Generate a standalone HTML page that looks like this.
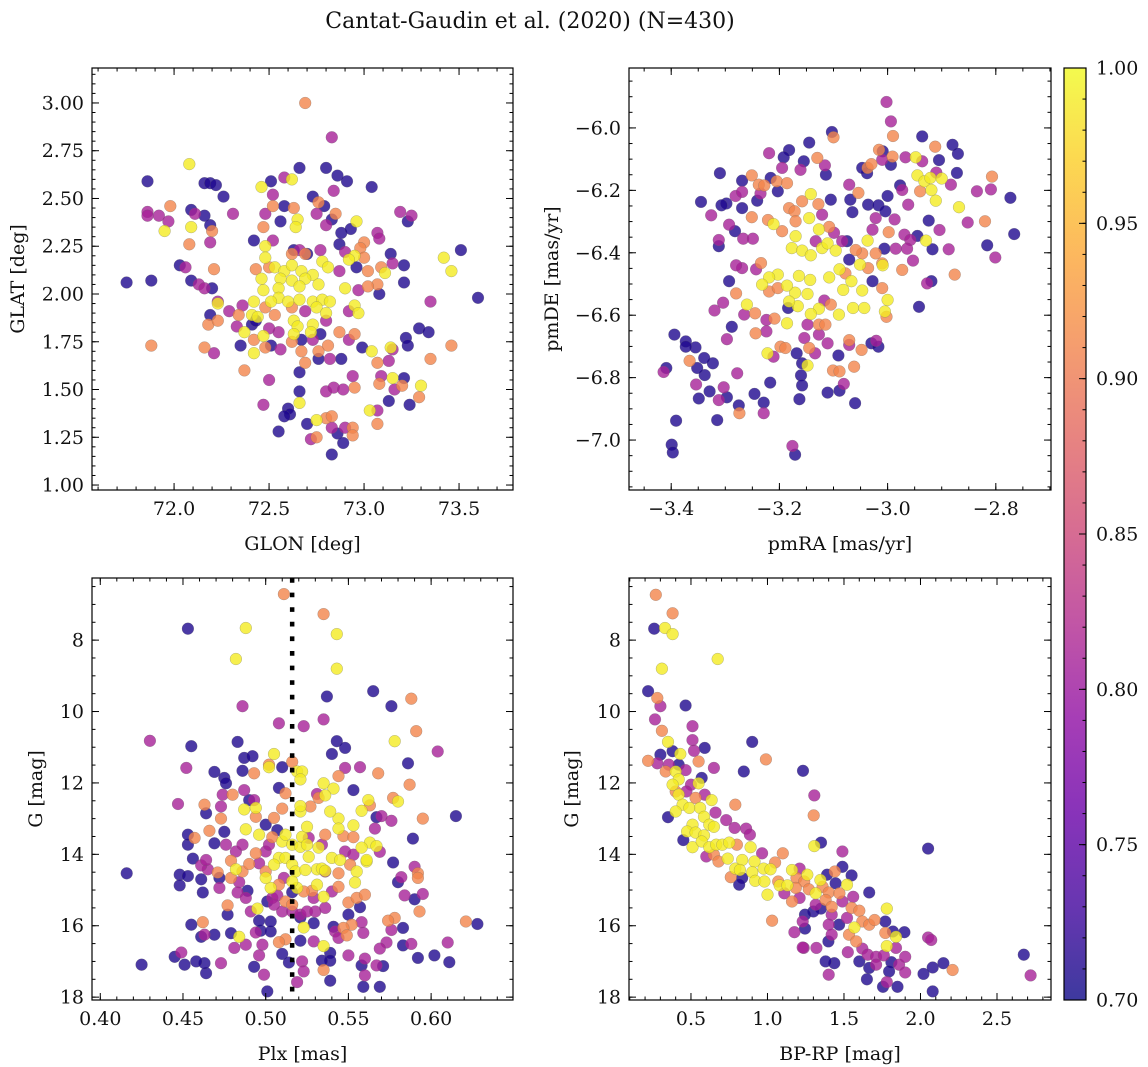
<!DOCTYPE html>
<html><head><meta charset="utf-8">
<style>
html,body{margin:0;padding:0;background:#fff;}
svg{display:block;font-family:"DejaVu Serif","Liberation Serif",serif;}
</style></head>
<body>
<svg id="fig" width="1148" height="1067" viewBox="0 0 1148 1067" xmlns="http://www.w3.org/2000/svg">
<defs>
<linearGradient id="plasma" x1="0" y1="1" x2="0" y2="0">
<stop offset="0" stop-color="#0d0887"/><stop offset="0.1" stop-color="#41049d"/><stop offset="0.2" stop-color="#6a00a8"/><stop offset="0.3" stop-color="#8f0da4"/><stop offset="0.4" stop-color="#b12a90"/><stop offset="0.5" stop-color="#cc4778"/><stop offset="0.6" stop-color="#e16462"/><stop offset="0.7" stop-color="#f2844b"/><stop offset="0.8" stop-color="#fca636"/><stop offset="0.9" stop-color="#fcce25"/><stop offset="1" stop-color="#f0f921"/>
</linearGradient>
</defs>
<text x="530" y="28" font-size="22" text-anchor="middle" fill="#111">Cantat-Gaudin et al. (2020) (N=430)</text>
</svg>
<script>
// ---- Panel 1: GLON / GLAT ----
const glon=[72.69,72.83,72.08,71.86,72.16,72.19,72.22,72.26,72.66,72.80,72.86,72.91,73.04,72.84,72.62,72.58,72.51,72.46,72.52,71.86,71.86,71.92,71.98,71.97,71.95,72.09,72.16,72.11,72.19,72.20,72.09,72.08,72.19,72.31,72.48,72.52,72.58,72.63,72.65,72.64,72.56,72.47,72.42,72.48,72.52,72.73,72.76,72.79,72.75,72.80,72.83,72.85,72.88,72.93,72.96,73.07,73.08,73.19,73.25,73.23,72.63,72.66,72.70,72.77,72.87,72.90,73.00,72.98,72.95,72.92,73.00,73.09,73.14,73.15,73.21,73.11,73.42,73.51,73.46,73.60,73.35,73.21,73.08,73.07,73.02,72.97,72.90,72.87,72.96,73.02,
72.48,72.53,72.58,72.62,72.67,72.73,72.78,72.81,72.56,72.62,72.69,72.46,72.47,72.55,72.66,72.76,72.43,72.50,72.69,72.62,72.55,72.51,72.60,72.66,72.73,72.78,72.82,72.42,72.48,72.53,72.62,72.69,72.75,72.80,72.95,72.97,72.92,72.80,72.63,72.65,72.63,72.73,72.72,72.55,72.50,72.41,72.44,72.34,72.29,72.23,72.23,72.36,72.19,72.18,72.23,72.03,72.06,72.09,72.13,72.16,72.20,72.21,71.75,71.88,
72.33,72.37,72.41,72.43,72.47,72.42,72.48,72.42,72.35,72.51,72.56,72.62,72.67,72.67,72.73,72.77,72.81,72.87,72.92,72.95,72.99,73.04,73.14,73.15,73.22,73.23,73.29,73.34,73.46,73.35,73.07,73.13,72.76,72.76,72.69,72.82,72.88,72.66,72.50,72.47,72.37,72.16,72.21,71.88,72.60,72.61,72.58,72.66,72.66,72.80,72.84,72.94,72.89,72.95,73.03,73.07,73.07,73.09,73.08,73.15,73.21,73.20,73.16,73.30,73.29,73.13,73.24,72.75,72.70,72.80,72.83,72.83,72.86,72.90,72.94,72.94,72.75,72.72,72.89,72.83,72.55];
const glat=[3.00,2.82,2.68,2.59,2.58,2.58,2.57,2.51,2.66,2.66,2.62,2.59,2.56,2.54,2.60,2.61,2.59,2.56,2.52,2.43,2.41,2.41,2.46,2.38,2.33,2.44,2.41,2.42,2.36,2.33,2.35,2.26,2.27,2.42,2.42,2.46,2.46,2.45,2.39,2.35,2.38,2.35,2.28,2.25,2.28,2.51,2.48,2.46,2.42,2.36,2.39,2.42,2.32,2.34,2.38,2.32,2.29,2.43,2.41,2.38,2.23,2.23,2.21,2.23,2.26,2.22,2.27,2.24,2.20,2.18,2.19,2.14,2.21,2.16,2.15,2.11,2.19,2.23,2.12,1.98,1.96,2.06,2.00,2.05,2.04,2.02,2.03,2.12,2.14,2.12,
2.19,2.14,2.12,2.15,2.12,2.10,2.17,2.14,2.08,2.07,2.08,2.08,2.02,2.03,2.04,2.05,2.13,2.14,2.21,2.21,1.98,1.96,1.96,1.97,1.96,1.97,1.96,1.96,1.93,1.89,1.93,1.91,1.93,1.90,1.94,1.90,1.91,1.86,1.86,1.83,1.79,1.84,1.80,1.80,1.82,1.89,1.88,1.89,1.91,1.95,1.96,1.94,1.89,1.84,1.86,2.15,2.14,2.07,2.05,2.03,2.03,2.13,2.06,2.07,
1.83,1.80,1.84,1.86,1.78,1.76,1.72,1.69,1.73,1.73,1.71,1.75,1.76,1.70,1.76,1.79,1.73,1.80,1.76,1.79,1.72,1.70,1.72,1.71,1.77,1.73,1.82,1.80,1.73,1.66,1.64,1.65,1.70,1.66,1.64,1.66,1.66,1.59,1.55,1.42,1.60,1.72,1.69,1.73,1.40,1.37,1.36,1.43,1.49,1.49,1.51,1.57,1.50,1.51,1.39,1.39,1.32,1.57,1.53,1.56,1.56,1.52,1.50,1.52,1.46,1.44,1.42,1.34,1.32,1.35,1.36,1.30,1.27,1.30,1.30,1.26,1.25,1.24,1.22,1.16,1.28];
const prob1=[.91,.81,.99,.71,.71,.71,.71,.71,.71,.71,.71,.71,.71,.81,.99,.81,.71,.99,.81,.81,.81,.81,.91,.81,.99,.71,.71,.81,.71,.91,.99,.91,.81,.81,.81,.91,.71,.91,.99,.99,.71,.91,.71,.99,.81,.71,.91,.71,.81,.81,.71,.91,.71,.71,.99,.81,.81,.81,.81,.71,.71,.81,.71,.81,.71,.81,.91,.91,.99,.99,.91,.91,.71,.81,.71,.99,.99,.71,.99,.71,.81,.71,.71,.91,.91,.81,.99,.81,.71,.91,
.99,.99,.99,.99,.99,.99,.99,.99,.99,.99,.99,.99,.99,.99,.99,.99,.91,.91,.91,.91,.99,.99,.99,.99,.99,.99,.99,.99,.91,.91,.91,.81,.99,.99,.99,.99,.81,.81,.99,.99,.99,.99,.99,.81,.81,.99,.99,.91,.81,.99,.81,.81,.71,.91,.91,.71,.81,.71,.81,.81,.71,.91,.71,.71,
.81,.99,.71,.71,.99,.91,.91,.99,.71,.71,.81,.91,.71,.91,.81,.71,.91,.91,.81,.91,.71,.99,.99,.81,.71,.71,.71,.71,.91,.91,.91,.81,.91,.71,.91,.81,.71,.71,.81,.81,.91,.91,.81,.91,.71,.71,.71,.99,.71,.81,.81,.81,.81,.91,.99,.81,.91,.81,.91,.99,.71,.91,.81,.99,.91,.71,.71,.99,.71,.91,.91,.81,.71,.81,.91,.91,.91,.81,.71,.71,.71];

// ---- Panel 2: pmRA / pmDE ----
const pmra=[-3.002,-2.994,-2.990,-3.103,-3.100,-3.145,-3.182,-3.219,-3.192,-3.155,-3.130,-3.116,-3.114,-3.161,-3.195,-3.310,-3.269,-3.251,-3.238,-3.228,-3.216,-3.205,-3.186,-3.203,-3.281,-3.269,-3.298,-3.307,-3.345,-3.326,-3.269,-3.241,-3.251,-3.235,-3.293,-3.282,-3.312,-3.312,-3.267,-3.249,-3.221,-3.211,-3.195,-3.182,-3.172,-3.170,-3.158,-3.142,-3.128,-3.121,-3.145,-3.127,-3.108,-3.099,-3.170,-3.177,-3.158,-3.142,-3.121,-3.111,-3.096,-3.133,-3.084,-3.075,-3.069,-3.105,-3.071,-3.054,-3.065,-3.037,-3.038,-3.047,-3.016,-3.009,-3.030,-3.010,-2.991,-2.994,-3.036,-3.017,-3.004,-3.022,-3.028,-2.998,-2.987,-2.977,-2.973,-3.000,-2.962,-2.967,-2.948,-2.936,-2.912,-2.936,-2.905,-2.880,-2.870,-2.872,-2.910,-2.945,-2.932,-2.921,-2.900,-2.919,-2.911,-2.940,-2.883,-2.868,-2.835,-2.809,-2.807,-2.773,-2.852,-2.820,-2.766,-2.816,-2.801,-2.924,-2.904,-2.929,-2.917,-2.887,-2.945,-2.969,-2.958,-2.985,-2.964,-2.953,-3.006,-3.010,-3.009,-2.973,-2.876,-2.919,-2.927,-2.942,
-3.022,-3.037,-3.047,-3.059,-3.051,-3.036,-3.071,-3.089,-3.108,-3.078,-3.067,-3.047,-3.028,-3.010,-3.000,-3.005,-3.002,-3.043,-3.064,-3.082,-3.090,-3.105,-3.117,-3.127,-3.142,-3.148,-3.171,-3.166,-3.182,-3.143,-3.164,-3.186,-3.203,-3.219,-3.232,-3.219,-3.203,-3.243,-3.234,-3.269,-3.280,-3.293,-3.280,-3.304,-3.320,-3.260,-3.245,-3.265,-3.224,-3.209,-3.186,-3.184,-3.288,-3.244,-3.224,-3.297,-3.148,-3.127,-3.115,-3.127,-3.111,-3.145,-3.134,-3.154,-3.168,-3.198,-3.211,-3.222,-3.189,-3.158,-3.148,-3.071,-3.071,-3.091,-3.048,-3.030,-3.021,-3.017,-3.062,-3.101,-3.089,-3.081,-3.089,-3.060,-3.111,-3.160,-3.158,-3.163,-3.217,-3.229,-3.229,-3.246,-3.275,-3.274,-3.278,-3.315,-3.303,-3.297,-3.312,-3.329,-3.349,-3.354,-3.338,-3.352,-3.323,-3.339,-3.355,-3.373,-3.373,-3.366,-3.394,-3.409,-3.414,-3.391,-3.399,-3.397,-3.176,-3.171];
const pmde=[-5.917,-5.979,-6.026,-6.013,-6.030,-6.047,-6.071,-6.081,-6.094,-6.107,-6.096,-6.120,-6.150,-6.134,-6.128,-6.145,-6.169,-6.152,-6.182,-6.184,-6.160,-6.171,-6.177,-6.203,-6.218,-6.205,-6.242,-6.248,-6.237,-6.280,-6.257,-6.233,-6.286,-6.210,-6.310,-6.331,-6.359,-6.379,-6.355,-6.355,-6.295,-6.308,-6.331,-6.257,-6.267,-6.299,-6.235,-6.212,-6.244,-6.278,-6.289,-6.325,-6.317,-6.336,-6.347,-6.385,-6.393,-6.408,-6.385,-6.370,-6.393,-6.363,-6.363,-6.363,-6.230,-6.230,-6.182,-6.208,-6.270,-6.128,-6.145,-6.128,-6.070,-6.075,-6.116,-6.102,-6.092,-6.118,-6.246,-6.248,-6.267,-6.289,-6.326,-6.334,-6.293,-6.184,-6.199,-6.218,-6.246,-6.094,-6.094,-6.027,-6.060,-6.107,-6.103,-6.054,-6.083,-6.144,-6.143,-6.152,-6.171,-6.160,-6.162,-6.199,-6.233,-6.203,-6.182,-6.254,-6.203,-6.197,-6.156,-6.224,-6.303,-6.299,-6.340,-6.376,-6.415,-6.297,-6.327,-6.361,-6.389,-6.389,-6.346,-6.342,-6.359,-6.387,-6.387,-6.425,-6.387,-6.434,-6.440,-6.455,-6.470,-6.491,-6.498,-6.573,
-6.402,-6.361,-6.402,-6.391,-6.438,-6.449,-6.422,-6.453,-6.479,-6.466,-6.491,-6.521,-6.491,-6.513,-6.551,-6.588,-6.605,-6.577,-6.577,-6.519,-6.598,-6.566,-6.553,-6.579,-6.596,-6.532,-6.528,-6.571,-6.556,-6.487,-6.474,-6.505,-6.470,-6.479,-6.502,-6.524,-6.513,-6.453,-6.433,-6.449,-6.440,-6.491,-6.530,-6.560,-6.585,-6.566,-6.594,-6.598,-6.615,-6.611,-6.626,-6.577,-6.637,-6.658,-6.652,-6.677,-6.630,-6.630,-6.630,-6.662,-6.690,-6.705,-6.722,-6.673,-6.722,-6.701,-6.733,-6.722,-6.705,-6.754,-6.761,-6.680,-6.695,-6.729,-6.711,-6.690,-6.682,-6.701,-6.765,-6.777,-6.780,-6.820,-6.842,-6.882,-6.848,-6.793,-6.825,-6.869,-6.816,-6.880,-6.914,-6.852,-6.889,-6.914,-6.786,-6.936,-6.831,-6.863,-6.872,-6.844,-6.867,-6.822,-6.792,-6.769,-6.754,-6.737,-6.703,-6.684,-6.701,-6.746,-6.662,-6.769,-6.782,-6.938,-7.015,-7.040,-7.019,-7.047];
const prob2=[.81,.81,.91,.71,.91,.71,.71,.81,.71,.71,.91,.81,.71,.81,.81,.71,.71,.91,.91,.91,.71,.91,.91,.71,.81,.81,.71,.71,.71,.81,.71,.71,.91,.81,.81,.71,.81,.71,.81,.81,.91,.99,.91,.91,.91,.91,.91,.99,.91,.81,.99,.99,.91,.81,.99,.99,.99,.99,.99,.99,.99,.81,.81,.71,.71,.71,.81,.91,.71,.91,.71,.71,.91,.71,.91,.81,.91,.71,.71,.71,.71,.81,.81,.91,.81,.71,.81,.71,.81,.81,.99,.71,.91,.81,.71,.71,.71,.71,.81,.99,.99,.99,.99,.99,.99,.91,.81,.99,.81,.81,.91,.71,.81,.91,.71,.71,.81,.71,.81,.99,.71,.81,.71,.81,.81,.81,.81,.81,.71,.91,.99,.91,.91,.71,.81,.71,
.91,.99,.91,.91,.99,.91,.71,.99,.99,.91,.99,.99,.71,.91,.99,.99,.91,.99,.99,.99,.99,.91,.81,.99,.99,.99,.99,.99,.99,.99,.99,.99,.99,.99,.99,.91,.91,.81,.91,.81,.81,.71,.91,.81,.81,.99,.91,.81,.81,.91,.99,.71,.71,.91,.81,.81,.81,.91,.91,.81,.81,.91,.81,.81,.71,.91,.81,.99,.91,.71,.99,.91,.81,.71,.91,.71,.81,.71,.91,.91,.91,.81,.71,.71,.71,.71,.71,.71,.71,.71,.81,.71,.71,.91,.81,.71,.81,.71,.81,.71,.71,.81,.71,.71,.71,.71,.71,.71,.71,.91,.71,.71,.81,.71,.71,.71,.81,.71];

// ---- Panel 3: Plx / G ----
const plx=[.511,.535,.453,.488,.543,.482,.543,.565,.537,.576,.588,.486,.535,.508,.523,.430,.591,.578,.604,.455,.483,.543,.548,.540,.487,.492,.505,.502,.502,.510,.516,.519,.522,.521,.452,.469,.475,.476,.486,.493,.508,.512,.548,.544,.535,.541,.536,.531,.553,.557,.568,.586,.587,.577,.580,.595,.615,.562,.558,.563,.567,.570,.576,.566,.553,.544,.539,.544,.547,.553,.589,.563,.558,.567,.561,.569,.577,.590,.592,.592,.582,.580,.584,.595,.590,.593,.578,.574,.576,.583,.583,.588,.592,.602,.611,.610,.621,.628,.573,.569,.567,.571,.569,.559,.558,.560,.560,.558,.559,.552,.547,.542,.544,.541,.550,.550,.539,.539,.534,.535,.539,.535,.529,.529,.523,.521,.521,.522,.523,.519,.512,.508,.510,.514,.501,.499,.496,.494,.497,.503,.503,.496,.495,.491,.488,.493,.481,.484,.479,.473,.469,.463,.461,.462,.455,.464,.463,.458,.451,.449,.445,.425,.416,.448,.453,.448,.461,.462,.477,.472,.472,.471,.465,.461,.456,.464,.453,.453,.457,.469,.466,.473,.475,.476,.482,.486,.479,.482,.479,.484,.483,.489,.488,.486,.490,.496,.494,.500,.502,.504,.507,.500,.496,.488,.494,.505,.510,.487,.494,.493,.490,.480,.487,.474,.463,.464,.447,.473,.508,.505,.512,.510,.512,.516,.516,.518,.521,.522,.525,.525,.526,.521,.521,.527,.532,.536,.534,.532,.526,.524,.531,.534,.536,.540,.545,.548,.551,.555,.554,.553,.561,.544,.544,.540,.531,.535,.529,.528,.523,.519,.516,.511,.508,.503,.500,.500,.504,.507,.512,.516,.510,.505,.501,.516,.516,.521,.525,.530,.536,.550,.557,.555,.560,.549,.498,.477,.536];
const gmag3=[6.71,7.27,7.68,7.66,7.83,8.53,8.80,9.43,9.58,9.85,9.64,9.85,10.22,10.33,10.41,10.82,10.55,10.83,11.12,10.97,10.85,10.83,11.02,11.19,11.30,11.25,11.19,11.49,11.56,11.56,11.41,11.68,11.68,11.90,11.58,11.69,11.86,12.01,11.66,11.73,12.14,12.29,11.58,11.81,12.01,12.16,12.35,12.31,12.20,11.56,11.73,11.45,12.05,12.42,12.52,13.00,12.93,12.48,12.78,12.63,12.96,12.93,13.06,13.28,13.19,13.00,12.80,13.28,13.49,13.52,13.56,13.67,13.81,13.77,14.20,13.93,14.23,14.35,14.53,14.66,14.64,14.78,15.15,15.11,15.26,15.60,15.78,15.86,16.12,16.06,16.55,16.51,16.90,16.83,17.02,16.47,15.88,15.95,16.47,16.64,17.11,17.13,17.71,17.71,17.11,17.39,16.92,15.90,16.20,15.97,16.06,16.16,16.34,16.03,15.69,16.83,16.76,16.98,16.98,17.24,17.54,16.57,16.44,15.93,16.05,15.77,16.42,17.00,17.28,17.58,16.38,16.46,16.79,17.03,17.84,17.37,16.83,16.19,16.14,16.16,15.88,15.86,15.52,15.60,16.53,17.15,16.62,16.31,16.21,17.05,16.25,16.25,16.31,15.90,15.97,17.33,17.05,17.00,17.09,16.75,16.87,17.09,14.53,14.57,14.61,14.87,14.70,15.07,15.43,14.94,14.66,14.51,14.42,14.31,14.12,14.16,13.73,13.45,13.54,13.69,13.34,13.00,13.37,13.73,13.92,13.73,14.18,14.42,14.66,14.78,15.07,15.02,15.22,14.48,14.27,14.25,13.97,13.92,13.73,13.52,13.32,13.17,13.45,13.30,12.95,12.98,12.72,12.74,12.70,12.48,12.48,12.33,12.20,12.33,12.61,12.85,12.59,12.66,14.10,14.29,14.10,13.64,13.45,13.73,14.29,14.48,13.79,13.51,13.23,13.73,13.54,12.80,12.65,12.66,12.42,13.45,13.73,13.81,14.07,14.44,14.42,14.40,14.46,14.10,14.16,13.92,14.29,14.48,14.79,14.01,14.16,14.53,14.91,15.04,14.85,15.19,15.22,15.02,15.04,14.94,14.76,14.66,14.85,14.94,14.66,14.48,15.22,15.15,15.32,15.41,15.60,15.41,15.32,15.06,15.60,15.69,15.60,15.60,15.50,15.35,15.48,15.22,15.13,16.27,16.53,15.69,14.48];
const prob3=[.91,.91,.71,.99,.99,.99,.99,.71,.71,.71,.91,.81,.81,.81,.81,.81,.91,.99,.81,.71,.71,.71,.71,.71,.71,.71,.99,.91,.99,.71,.91,.99,.99,.99,.81,.71,.71,.71,.71,.91,.71,.91,.81,.91,.99,.99,.99,.81,.71,.81,.91,.71,.91,.91,.99,.91,.71,.99,.99,.91,.71,.81,.81,.81,.99,.99,.99,.99,.91,.91,.71,.99,.99,.99,.99,.81,.71,.81,.91,.91,.81,.71,.81,.81,.71,.91,.91,.91,.81,.71,.71,.81,.71,.71,.71,.81,.91,.71,.81,.81,.81,.71,.71,.71,.71,.81,.81,.81,.81,.91,.91,.81,.81,.71,.71,.81,.71,.71,.71,.91,.71,.99,.81,.71,.99,.71,.71,.81,.81,.81,.91,.91,.71,.71,.71,.81,.81,.81,.71,.71,.71,.71,.99,.81,.81,.71,.81,.99,.71,.81,.71,.81,.71,.91,.71,.71,.71,.71,.71,.81,.71,.71,.71,.71,.71,.71,.71,.71,.91,.81,.71,.91,.81,.81,.71,.81,.71,.71,.91,.71,.91,.91,.71,.81,.81,.81,.91,.99,.91,.81,.81,.71,.81,.91,.91,.81,.91,.81,.81,.91,.71,.71,.99,.99,.91,.91,.91,.99,.99,.81,.71,.91,.81,.81,.91,.71,.81,.81,.99,.99,.99,.99,.99,.99,.99,.99,.99,.99,.99,.99,.81,.99,.99,.91,.91,.91,.81,.99,.99,.99,.99,.99,.99,.99,.99,.81,.91,.99,.99,.81,.99,.91,.91,.81,.99,.99,.81,.91,.91,.99,.99,.81,.91,.99,.99,.91,.81,.81,.91,.91,.81,.81,.71,.71,.81,.81,.81,.81,.81,.91,.71,.91,.91,.91,.81,.71,.81];
const plxRef=[0.516];

// ---- Panel 4: BP-RP / G ----
const bprp=[.27,.38,.26,.33,.38,.675,.31,.22,.28,.30,.465,.265,.31,.51,.51,.52,.59,.90,.99,.35,.30,.38,.43,.22,.28,.355,.42,.465,.55,.65,.845,1.232,.335,.40,.42,.38,.55,.57,.50,.42,.40,.47,.59,.635,.53,.445,.49,.56,.40,.35,.585,.66,.73,.79,1.306,1.302,.51,.475,.53,.585,.62,.65,.45,.51,.57,.62,.665,.60,.65,.705,.75,.785,.86,.885,.80,.68,.74,.835,.79,.82,.76,.835,.815,.89,.915,.965,.90,.92,.975,1.02,1.10,1.05,.98,1.00,1.07,1.08,1.13,1.11,1.16,1.21,1.19,1.24,1.26,1.185,1.16,1.21,1.27,1.315,1.346,1.36,1.39,1.44,1.49,1.55,1.52,1.445,1.40,1.47,1.38,1.315,1.35,1.42,1.49,1.56,1.665,1.55,1.60,1.52,1.42,1.40,1.30,1.245,1.23,1.245,1.176,1.03,1.237,1.32,1.398,1.42,1.468,1.533,1.568,1.62,1.665,1.70,1.77,1.78,1.77,1.82,1.84,1.78,1.84,1.895,1.58,1.62,1.655,1.71,1.76,1.525,1.60,1.665,1.71,1.81,1.795,1.86,1.90,1.90,1.78,1.755,1.85,1.65,1.40,1.437,1.38,1.23,2.02,2.08,2.15,2.21,2.08,2.05,2.07,2.05,2.675,2.72,1.49,1.35,1.306];
const gmag4=[6.73,7.25,7.68,7.66,7.83,8.53,8.80,9.43,9.62,9.85,9.83,10.22,10.54,10.41,10.80,11.10,11.02,10.85,11.34,10.85,11.21,11.11,11.19,11.38,11.45,11.49,11.49,11.64,11.40,11.58,11.68,11.66,11.68,11.68,11.90,12.05,12.01,11.86,12.05,12.33,12.24,12.24,12.33,12.48,12.42,12.61,12.70,12.70,12.80,12.96,12.95,12.83,13.04,12.61,12.35,12.91,13.17,13.36,13.39,13.47,13.17,13.23,13.60,13.80,13.64,13.80,13.73,14.06,14.01,13.73,13.67,13.26,13.28,13.45,13.73,14.20,14.12,14.16,14.40,14.44,14.64,14.66,14.85,13.80,14.20,13.97,14.50,14.74,14.40,14.42,13.97,14.23,14.76,15.13,14.76,14.87,14.87,15.09,14.44,14.40,14.66,14.76,14.57,14.94,15.32,15.22,14.98,15.09,14.72,14.91,14.57,14.48,14.35,14.59,14.85,14.81,15.07,15.09,15.28,15.41,15.52,15.47,15.32,15.19,15.07,15.50,15.58,15.78,15.69,15.97,15.60,15.69,15.88,16.08,16.18,15.86,16.62,16.62,16.44,16.25,15.97,16.25,16.05,15.88,15.97,15.84,15.88,15.52,16.20,16.16,16.31,16.57,16.62,16.18,16.44,16.64,16.81,16.87,16.83,16.74,17.00,17.18,17.09,17.02,17.28,17.09,16.87,17.31,17.58,17.71,17.71,17.50,17.37,17.05,17.00,16.61,17.35,17.17,17.05,17.24,17.84,16.33,16.40,13.84,16.81,17.39,13.92,13.67,13.77];
const prob4=[.91,.91,.71,.99,.99,.99,.99,.71,.91,.81,.71,.81,.91,.81,.81,.81,.71,.71,.91,.99,.71,.71,.99,.91,.81,.81,.71,.81,.91,.81,.71,.71,.91,.99,.99,.99,.99,.71,.81,.99,.91,.81,.81,.99,.91,.99,.99,.99,.99,.71,.99,.81,.81,.91,.81,.91,.99,.99,.99,.99,.99,.99,.71,.99,.99,.99,.99,.81,.91,.99,.99,.81,.81,.81,.91,.91,.99,.99,.99,.99,.91,.71,.71,.99,.99,.81,.99,.99,.99,.99,.91,.91,.99,.99,.91,.99,.99,.81,.99,.81,.91,.91,.99,.91,.91,.81,.91,.99,.99,.91,.71,.91,.71,.71,.99,.71,.91,.91,.91,.81,.71,.91,.81,.81,.71,.91,.91,.81,.81,.81,.71,.71,.81,.71,.81,.91,.81,.81,.71,.81,.71,.91,.99,.91,.91,.91,.71,.99,.91,.71,.99,.99,.81,.71,.91,.81,.81,.81,.81,.81,.71,.71,.81,.71,.71,.81,.81,.81,.81,.71,.71,.71,.81,.71,.71,.81,.71,.71,.71,.91,.71,.81,.81,.71,.71,.81,.81,.71,.99];

// ---- Tick values ----
const xt1=[72.0,72.5,73.0,73.5], yt1=[1.00,1.25,1.50,1.75,2.00,2.25,2.50,2.75,3.00];
const xt2=[-3.4,-3.2,-3.0,-2.8], yt2=[-7.0,-6.8,-6.6,-6.4,-6.2,-6.0];
const xt3=[0.40,0.45,0.50,0.55,0.60], yt3=[8,10,12,14,16,18];
const xt4=[0.5,1.0,1.5,2.0,2.5], yt4=[8,10,12,14,16,18];
const cbt=[0.70,0.75,0.80,0.85,0.90,0.95,1.00];

const NS='http://www.w3.org/2000/svg';
const svg=document.getElementById('fig');
const FS=19;
const stops=[[0,13,8,135],[.1,65,4,157],[.2,106,0,168],[.3,143,13,164],[.4,177,42,144],[.5,204,71,120],[.6,225,100,98],[.7,242,132,75],[.8,252,166,54],[.9,252,206,37],[1,240,249,33]];
function cmap(p){let t=Math.max(0,Math.min(1,(p-0.7)/0.3));for(let i=1;i<stops.length;i++){if(t<=stops[i][0]){const a=stops[i-1],b=stops[i],f=(t-a[0])/(b[0]-a[0]);return 'rgb('+[1,2,3].map(k=>Math.round(a[k]+(b[k]-a[k])*f)).join(',')+')';}}return 'rgb(240,249,33)';}
function mk(tag,attrs,parent){const e=document.createElementNS(NS,tag);for(const k in attrs)e.setAttribute(k,attrs[k]);(parent||svg).appendChild(e);return e;}
function fmt(v,d){const s=Math.abs(v).toFixed(d);return (v<-1e-9?'\u2212':'')+s;}

function panel(c){
  const g=mk('g',{});
  
  
  const sx=v=>c.x0+(v-c.xd[0])/(c.xd[1]-c.xd[0])*(c.x1-c.x0);
  const sy=v=>c.y0+(v-c.yd[0])/(c.yd[1]-c.yd[0])*(c.y1-c.y0);
  const pg=mk('g',{},g);
  
  
  const n=Math.min(c.xs.length,c.ys.length,c.ps.length);
  const idx=[];for(let i=0;i<n;i++)idx.push(i);
  idx.sort((a,b)=>c.ps[a]-c.ps[b]);
  idx.forEach(i=>{
    const cx=sx(c.xs[i]),cy=sy(c.ys[i]);
    if(cx<c.x0||cx>c.x1||cy<c.y0||cy>c.y1)return;
    const pt=mk('circle',{cx:cx.toFixed(1),cy:cy.toFixed(1),r:5.9,fill:cmap(c.ps[i]),'fill-opacity':0.8,stroke:'#666','stroke-opacity':0.6,'stroke-width':0.4},pg);
    
    
  });
  if(c.vline){
    c.vline.forEach(v=>{
      const ln=mk('line',{x1:sx(v),x2:sx(v),y1:c.y0,y2:c.y1,stroke:'#000','stroke-width':4.5,'stroke-dasharray':'4.7 9.9'},g);
      
      
    });
  }
  const fr=mk('rect',{x:c.x0,y:c.y0,width:c.x1-c.x0,height:c.y1-c.y0,fill:'none',stroke:'#000','stroke-width':1.2},g);
  
  
  const tg=mk('g',{stroke:'#000','stroke-width':1},g);
  
  
  const lo=Math.min(c.xd[0],c.xd[1]),hi=Math.max(c.xd[0],c.xd[1]);
  for(let v=Math.ceil(lo/c.xm)*c.xm;v<=hi;v+=c.xm){const x=sx(v);mk('line',{x1:x,x2:x,y1:c.y1,y2:c.y1-3.5},tg);mk('line',{x1:x,x2:x,y1:c.y0,y2:c.y0+3.5},tg);}
  const ylo=Math.min(c.yd[0],c.yd[1]),yhi=Math.max(c.yd[0],c.yd[1]);
  for(let v=Math.ceil(ylo/c.ym)*c.ym;v<=yhi;v+=c.ym){const y=sy(v);mk('line',{x1:c.x0,x2:c.x0+3.5,y1:y,y2:y},tg);mk('line',{x1:c.x1,x2:c.x1-3.5,y1:y,y2:y},tg);}
  c.xt.forEach(v=>{const x=sx(v);mk('line',{x1:x,x2:x,y1:c.y1,y2:c.y1-7},tg);mk('line',{x1:x,x2:x,y1:c.y0,y2:c.y0+7},tg);
    const t=mk('text',{x:x,y:c.y1+25,'font-size':FS,'text-anchor':'middle',fill:'#111'},g);t.textContent=fmt(v,c.xdp);
    
    });
  c.yt.forEach(v=>{const y=sy(v);mk('line',{x1:c.x0,x2:c.x0+7,y1:y,y2:y},tg);mk('line',{x1:c.x1,x2:c.x1-7,y1:y,y2:y},tg);
    const t=mk('text',{x:c.x0-8,y:y+6.5,'font-size':FS,'text-anchor':'end',fill:'#111'},g);t.textContent=fmt(v,c.ydp);
    
    });
  const xl=mk('text',{x:(c.x0+c.x1)/2,y:c.y1+60,'font-size':FS,'text-anchor':'middle',fill:'#111'},g);xl.textContent=c.xlab;
  
  
  const yl=mk('text',{x:0,y:0,'font-size':FS,'text-anchor':'middle',fill:'#111',transform:'translate('+c.ylx+','+((c.y0+c.y1)/2)+') rotate(-90)'},g);yl.textContent=c.ylab;
  
  
}

panel({name:'glon-glat-panel',x0:92,x1:513,y0:68,y1:490,xd:[71.568,73.784],yd:[3.183,0.974],xs:glon,ys:glat,ps:prob1,xt:xt1,yt:yt1,xm:0.1,ym:0.05,xdp:1,ydp:2,xlab:'GLON [deg]',ylab:'GLAT [deg]',ylx:24});
panel({name:'pm-panel',x0:629,x1:1051,y0:68,y1:490,xd:[-3.478,-2.698],yd:[-5.808,-7.160],xs:pmra,ys:pmde,ps:prob2,xt:xt2,yt:yt2,xm:0.05,ym:0.05,xdp:1,ydp:1,xlab:'pmRA [mas/yr]',ylab:'pmDE [mas/yr]',ylx:558});
panel({name:'plx-g-panel',x0:92,x1:513,y0:578,y1:1000,xd:[0.395,0.6495],yd:[6.26,18.08],xs:plx,ys:gmag3,ps:prob3,xt:xt3,yt:yt3,xm:0.01,ym:0.5,xdp:2,ydp:0,xlab:'Plx [mas]',ylab:'G [mag]',ylx:42,vline:plxRef});
panel({name:'cmd-panel',x0:629,x1:1051,y0:578,y1:1000,xd:[0.095,2.853],yd:[6.26,18.08],xs:bprp,ys:gmag4,ps:prob4,xt:xt4,yt:yt4,xm:0.1,ym:0.5,xdp:1,ydp:0,xlab:'BP-RP [mag]',ylab:'G [mag]',ylx:578});

// ---- Colorbar ----
const cb=mk('g',{});


const cbx0=1064,cbx1=1086,cby0=68,cby1=1000;
const cbs=v=>cby1-(v-0.70)/0.30*(cby1-cby0);
const cbr=mk('rect',{x:cbx0,y:cby0,width:cbx1-cbx0,height:cby1-cby0,fill:'url(#plasma)','fill-opacity':0.8,stroke:'#000','stroke-width':1.2},cb);


for(let v=0.70;v<=1.0001;v+=0.01){const y=cbs(v);mk('line',{x1:cbx1,x2:cbx1-3.5,y1:y,y2:y,stroke:'#000','stroke-width':1},cb);}
cbt.forEach(v=>{const y=cbs(v);mk('line',{x1:cbx1,x2:cbx1-7,y1:y,y2:y,stroke:'#000','stroke-width':1},cb);
  const t=mk('text',{x:cbx1+10,y:y+6.5,'font-size':FS,fill:'#111'},cb);t.textContent=v.toFixed(2);
  
  });
</script>
</body></html>
